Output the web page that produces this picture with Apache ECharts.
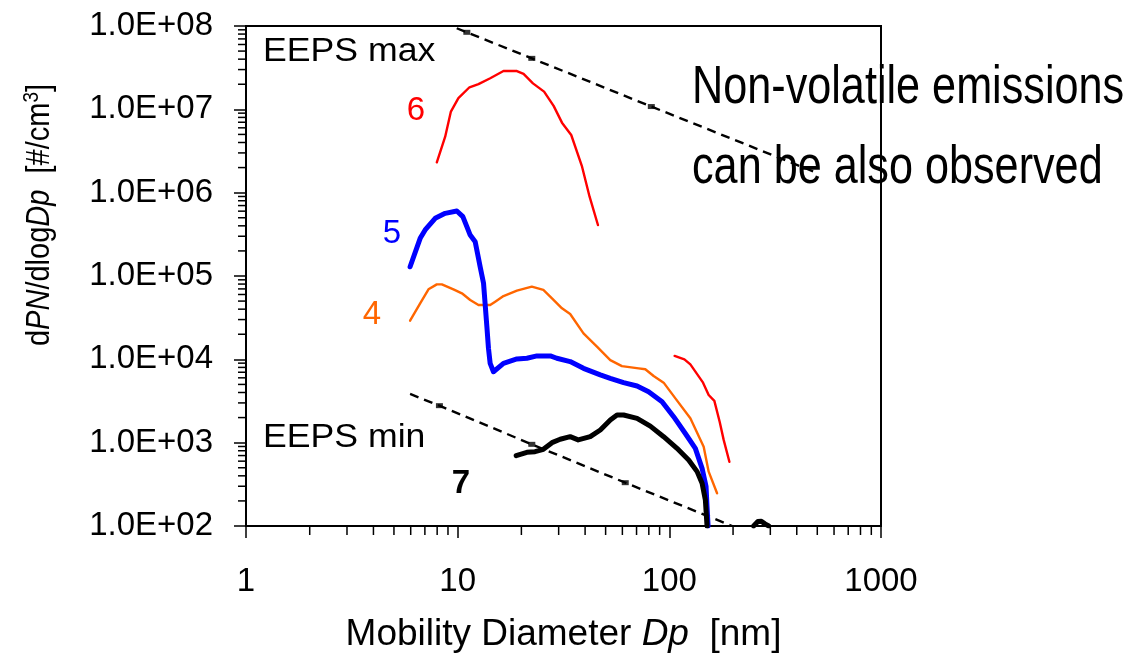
<!DOCTYPE html>
<html>
<head>
<meta charset="utf-8">
<script src="https://cdn.jsdelivr.net/npm/echarts@6.0.0/dist/echarts.min.js"></script>
<style>
  html, body { margin: 0; padding: 0; background: #fff; }
  #chart { width: 1133px; height: 666px; }
</style>
</head>
<body>
<div id="chart"></div>
<script>
// Axis tick labels
const xTickLabels = ['1', '10', '100', '1000'];
const yTickLabels = ['1.0E+02', '1.0E+03', '1.0E+04', '1.0E+05', '1.0E+06', '1.0E+07', '1.0E+08'];

// Size distributions: [mobility diameter Dp (nm), dPN/dlogDp (#/cm3)]
const run6 = [
  [7.97, 2.31e6], [8.73, 4.69e6], [9.29, 9.4e6], [10.08, 1.36e7], [11.37, 1.84e7],
  [12.54, 2.01e7], [14.25, 2.36e7], [16.46, 2.88e7], [19.05, 2.88e7], [20.48, 2.66e7],
  [22.68, 2.05e7], [25.6, 1.63e7], [28.4, 1.10e7], [31.1, 6.92e6], [34.4, 4.92e6],
  [38.7, 2.05e6], [42.0, 8.95e5], [46.0, 4.09e5]
];
const run6Tail = [
  [105.9, 1.10e4], [117.8, 1.0e4], [125.7, 8.7e3], [144.3, 5.25e3], [153.4, 3.73e3],
  [163.2, 3.17e3], [172.9, 1.78e3], [180.6, 1.08e3], [192.2, 590]
];
const run5 = [
  [5.96, 1.29e5], [6.65, 2.83e5], [7.02, 3.57e5], [7.83, 4.92e5], [8.73, 5.65e5],
  [9.91, 6.03e5], [10.58, 5.15e5], [11.05, 3.91e5], [11.46, 3.10e5], [12.10, 2.58e5],
  [12.54, 1.63e5], [12.77, 1.29e5], [13.25, 8.17e4], [13.74, 2.47e4], [13.98, 1.36e4],
  [14.24, 8.95e3], [14.76, 7.1e3], [16.46, 8.95e3], [19.05, 1.01e4], [21.24, 1.03e4],
  [23.69, 1.1e4], [27.4, 1.1e4], [29.4, 1.03e4], [34.0, 9.4e3], [39.3, 7.8e3],
  [47.2, 6.5e3], [52.6, 5.9e3], [60.8, 5.25e3], [70.4, 4.79e3], [79.8, 4.09e3],
  [92.4, 3.1e3], [104.8, 2.05e3], [119, 1.29e3], [132.7, 855], [142.8, 492],
  [149.1, 297], [150.7, 171], [152.4, 100]
];
const run4 = [
  [5.96, 2.91e4], [6.65, 4.7e4], [7.28, 6.92e4], [7.97, 7.94e4], [8.42, 7.94e4],
  [9.55, 6.92e4], [10.47, 6.2e4], [11.46, 5.15e4], [12.54, 4.49e4], [14.24, 4.49e4],
  [15.04, 4.92e4], [16.46, 5.75e4], [19.05, 6.67e4], [22.4, 7.45e4], [25.4, 6.8e4],
  [27.9, 5.4e4], [31.1, 4.09e4], [34.0, 3.5e4], [39.3, 2.05e4], [45.5, 1.42e4],
  [52.6, 9.8e3], [59.7, 8.3e3], [71.6, 7.8e3], [77, 7.6e3], [84.3, 6.3e3],
  [94, 5.25e3], [106.8, 3.4e3], [125.7, 1.96e3], [145.3, 895], [153.4, 449],
  [168.1, 247]
];
const run7 = [
  [18.9, 698], [21.24, 766], [23.2, 780], [25.4, 832], [27.9, 1.0e3],
  [30.5, 1.1e3], [34.0, 1.18e3], [37.1, 1.08e3], [42.3, 1.18e3], [47.2, 1.42e3],
  [52.6, 1.87e3], [56.6, 2.15e3], [60.8, 2.15e3], [70.4, 1.96e3], [81.3, 1.58e3],
  [94, 1.18e3], [108.7, 855], [123.4, 620], [135.3, 449], [142.8, 325],
  [148, 205], [150.7, 100]
];
const run7Coarse = [[250, 100], [262, 113], [272, 114], [283, 106], [295, 100]];

// Instrument detection limits
const eepsMax = [[9.9, 9.4e7], [11.05, 8.4e7], [22.4, 4.09e7], [82.2, 1.08e7], [481, 1.79e6]];
const eepsMaxMarks = [[11.05, 8.4e7], [22.4, 4.09e7], [82.2, 1.08e7]];
const eepsMin = [[5.96, 3.84e3], [8.2, 2.78e3], [22.4, 955], [61.9, 331], [198, 100]];
const eepsMinMarks = [[8.2, 2.78e3], [22.4, 955], [61.9, 331]];

const X_MIN = 1, X_MAX = 1000, Y_MIN = 100, Y_MAX = 1e8;
const FONT = '"Liberation Sans", Arial, sans-serif';

// Log-axis minor tick positions (2..9 within each decade)
function minorTickValues(lo, hi) {
  const out = [];
  for (let d = lo; d < hi; d *= 10) {
    for (let m = 2; m <= 9; m++) out.push(m * d);
  }
  return out;
}
const xMinor = minorTickValues(X_MIN, X_MAX).map(v => [v, Y_MIN]);
const yMinor = minorTickValues(Y_MIN, Y_MAX).map(v => [X_MIN, v]);

const chart = echarts.init(document.getElementById('chart'), null, { renderer: 'canvas' });

function lineSeries(data, color, width, z) {
  return {
    type: 'line', data: data, showSymbol: false, symbol: 'none', smooth: false,
    z: z, silent: true,
    lineStyle: { color: color, width: width, join: 'round', cap: 'round' }
  };
}
function dashedSeries(data) {
  return {
    type: 'line', data: data, showSymbol: false, symbol: 'none', silent: true, z: 2,
    lineStyle: { color: '#000', width: 2.4, type: [9, 6] }
  };
}
function markSeries(data) {
  return {
    type: 'scatter', data: data, symbol: 'rect', symbolSize: [7, 5], silent: true, z: 2,
    itemStyle: { color: '#000' }
  };
}

const option = {
  animation: false,
  backgroundColor: '#fff',
  grid: { left: 246, right: 252, top: 26, bottom: 140, show: true, borderColor: '#000', borderWidth: 2 },
  xAxis: {
    type: 'log', logBase: 10, min: X_MIN, max: X_MAX,
    axisLine: { lineStyle: { color: '#000', width: 2 } },
    axisTick: { length: 12, lineStyle: { color: '#000', width: 1.5 } },
    splitLine: { show: false },
    axisLabel: {
      color: '#000', fontFamily: FONT, fontSize: 33, margin: 39,
      formatter: v => xTickLabels[Math.round(Math.log10(v))]
    },
    name: '{a|Mobility Diameter }{i|Dp}{a|  [nm]}',
    nameLocation: 'middle', nameGap: 90,
    nameTextStyle: {
      rich: {
        a: { fontFamily: FONT, fontSize: 37, color: '#000' },
        i: { fontFamily: FONT, fontSize: 37, fontStyle: 'italic', color: '#000' }
      }
    }
  },
  yAxis: {
    type: 'log', logBase: 10, min: Y_MIN, max: Y_MAX,
    axisLine: { lineStyle: { color: '#000', width: 2 } },
    axisTick: { length: 12, lineStyle: { color: '#000', width: 1.5 } },
    splitLine: { show: false },
    axisLabel: {
      color: '#000', fontFamily: FONT, fontSize: 33, margin: 33,
      formatter: v => yTickLabels[Math.round(Math.log10(v)) - 2]
    }
  },
  graphic: [
    {
      type: 'text', x: 40, y: 215, rotation: Math.PI / 2, scaleY: 1.12, silent: true,
      style: {
        text: '{n|d}{i|PN}{n|/dlog}{i|Dp}{n|  [#/cm}{s|3}{n|]}',
        align: 'center', verticalAlign: 'middle',
        fontFamily: FONT, fontSize: 29, fill: '#000',
        rich: {
          n: { fontFamily: FONT, fontSize: 29, fill: '#000' },
          i: { fontFamily: FONT, fontSize: 29, fontStyle: 'italic', fill: '#000' },
          s: { fontFamily: FONT, fontSize: 19, fill: '#000', verticalAlign: 'top', padding: [0, 0, 14, 0] }
        }
      }
    },
    { type: 'text', x: 263, y: 52, scaleX: 1.08, silent: true,
      style: { text: 'EEPS max', fontFamily: FONT, fontSize: 33, fill: '#000', align: 'left', verticalAlign: 'middle' } },
    { type: 'text', x: 263, y: 438, scaleX: 1.08, silent: true,
      style: { text: 'EEPS min', fontFamily: FONT, fontSize: 33, fill: '#000', align: 'left', verticalAlign: 'middle' } },
    { type: 'text', x: 416, y: 111, silent: true,
      style: { text: '6', fontFamily: FONT, fontSize: 33, fill: '#ff0000', align: 'center', verticalAlign: 'middle' } },
    { type: 'text', x: 392, y: 234, silent: true,
      style: { text: '5', fontFamily: FONT, fontSize: 33, fill: '#0000ff', align: 'center', verticalAlign: 'middle' } },
    { type: 'text', x: 372, y: 315, silent: true,
      style: { text: '4', fontFamily: FONT, fontSize: 33, fill: '#ff6600', align: 'center', verticalAlign: 'middle' } },
    { type: 'text', x: 461, y: 484, silent: true,
      style: { text: '7', fontFamily: FONT, fontSize: 33, fontWeight: 'bold', fill: '#000', align: 'center', verticalAlign: 'middle' } },
    { type: 'text', x: 692, y: 88, scaleX: 0.8, silent: true,
      style: { text: 'Non-volatile emissions', fontFamily: FONT, fontSize: 54, fill: '#000', align: 'left', verticalAlign: 'middle' } },
    { type: 'text', x: 692, y: 168, scaleX: 0.8, silent: true,
      style: { text: 'can be also observed', fontFamily: FONT, fontSize: 54, fill: '#000', align: 'left', verticalAlign: 'middle' } }
  ],
  series: [
    {
      type: 'custom', data: xMinor, clip: false, silent: true, z: 5,
      renderItem: (params, api) => {
        const p = api.coord([api.value(0), api.value(1)]);
        return { type: 'line', shape: { x1: p[0], y1: p[1], x2: p[0], y2: p[1] + 9 },
                 style: { stroke: '#000', lineWidth: 1.5 } };
      }
    },
    {
      type: 'custom', data: yMinor, clip: false, silent: true, z: 5,
      renderItem: (params, api) => {
        const p = api.coord([api.value(0), api.value(1)]);
        return { type: 'line', shape: { x1: p[0] - 8, y1: p[1], x2: p[0], y2: p[1] },
                 style: { stroke: '#000', lineWidth: 1.5 } };
      }
    },
    dashedSeries(eepsMax),
    markSeries(eepsMaxMarks),
    dashedSeries(eepsMin),
    markSeries(eepsMinMarks),
    lineSeries(run6, '#ff0000', 2.4, 3),
    lineSeries(run6Tail, '#ff0000', 2.4, 3),
    lineSeries(run4, '#ff6600', 2.4, 4),
    lineSeries(run5, '#0000ff', 5, 5),
    lineSeries(run7, '#000000', 5, 6),
    lineSeries(run7Coarse, '#000000', 5, 6)
  ]
};
chart.setOption(option);
</script>
</body>
</html>
